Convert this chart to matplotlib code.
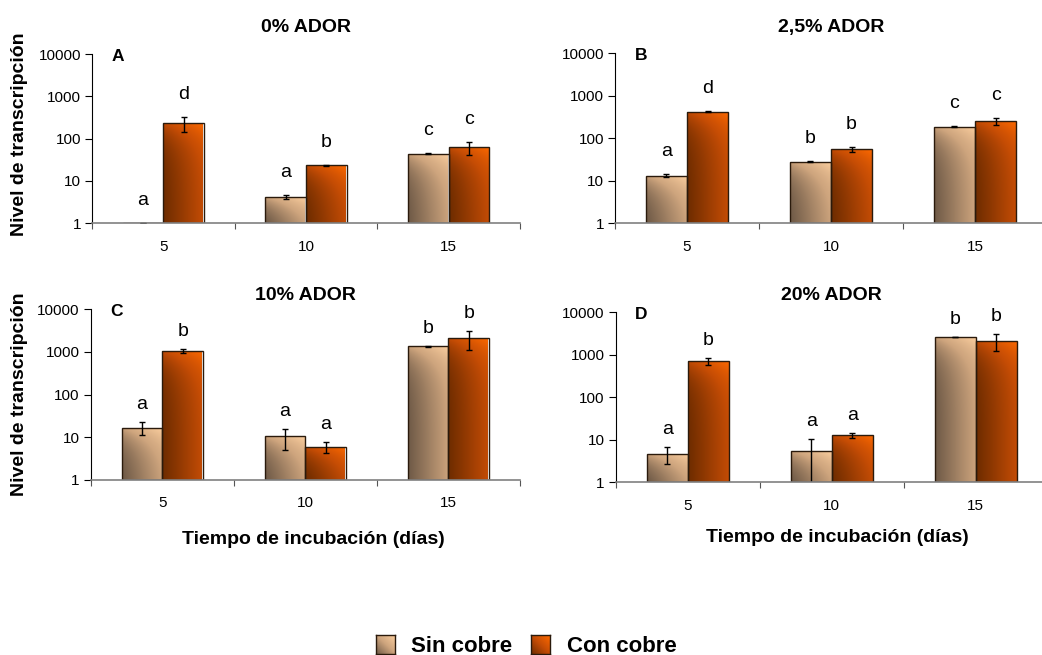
import matplotlib
matplotlib.use("Agg")
import matplotlib.pyplot as plt
from matplotlib.colors import LinearSegmentedColormap
import numpy as np

plt.rcParams['font.family'] = ['Liberation Sans', 'DejaVu Sans']

# days of incubation and panel titles
dias = ['5', '10', '15']
titulos = ['0% ADOR', '2,5% ADOR', '10% ADOR', '20% ADOR']
letras_panel = ['A', 'B', 'C', 'D']

# transcription level (mean) and error, without copper
sin_A = [1.0, 4.1, 44]
sin_A_err = [0.0, 0.4, 0.8]
sin_B = [13, 28, 186]
sin_B_err = [1.0, 1.2, 2]
sin_C = [16.6, 10.4, 1355]
sin_C_err = [5.5, 5.3, 20]
sin_D = [4.65, 5.3, 2580]
sin_D_err = [2.0, 4.9, 30]

# with copper
con_A = [230, 23, 62]
con_A_err = [85, 0.4, 21]
con_B = [420, 54, 248]
con_B_err = [20, 8, 42]
con_C = [1067, 5.95, 2090]
con_C_err = [120, 1.6, 980]
con_D = [714, 12.6, 2150]
con_D_err = [130, 1.8, 920]

# significance letters
sig_sin_A = ['a', 'a', 'c']
sig_con_A = ['d', 'b', 'c']
sig_sin_B = ['a', 'b', 'c']
sig_con_B = ['d', 'b', 'c']
sig_sin_C = ['a', 'a', 'b']
sig_con_C = ['b', 'a', 'b']
sig_sin_D = ['a', 'a', 'b']
sig_con_D = ['b', 'a', 'b']

cmap_sin = LinearSegmentedColormap.from_list('sin', ['#6f5a47', '#cda47d', '#fdd0a0'])
cmap_con = LinearSegmentedColormap.from_list('con', ['#6e2c00', '#c44c05', '#ff6a00'])

# diagonal gradient, dark at bottom-left, light at top-right
n = 64
u, v = np.meshgrid(np.linspace(0, 1, n), np.linspace(0, 1, n))
grad = (u + v) / 2.0


def gradient_bar(ax, x, h, w, cmap):
    if h > 1:
        ax.imshow(grad, cmap=cmap, origin='lower', aspect='auto',
                  extent=(x - w / 2, x + w / 2, 1, h), interpolation='bilinear',
                  zorder=2)
    ax.bar(x, h - 1, bottom=1, width=w, facecolor='none',
           edgecolor='#2a1a0c', linewidth=1.0, zorder=3)


def draw_panel(ax, sin, sin_err, con, con_err, sig_sin, sig_con, title, letra,
               title_pad, letra_off):
    x = np.arange(len(dias))
    w = 0.285
    off = 0.1425
    for xi, h in zip(x - off, sin):
        gradient_bar(ax, xi, h, w, cmap_sin)
    for xi, h in zip(x + off, con):
        gradient_bar(ax, xi, h, w, cmap_con)
    ax.errorbar(x - off, sin, yerr=sin_err, fmt='none', ecolor='black',
                elinewidth=1, capsize=2.5, capthick=1, zorder=4)
    ax.errorbar(x + off, con, yerr=con_err, fmt='none', ecolor='black',
                elinewidth=1, capsize=2.5, capthick=1, zorder=4)

    for xi, h, e, s in zip(x - off, sin, sin_err, sig_sin):
        ax.annotate(s, (xi, h + e), xytext=(0, letra_off), textcoords='offset points',
                    ha='center', va='baseline', fontsize=14)
    for xi, h, e, s in zip(x + off, con, con_err, sig_con):
        ax.annotate(s, (xi, h + e), xytext=(0, letra_off), textcoords='offset points',
                    ha='center', va='baseline', fontsize=14)

    ax.set_yscale('log')
    ax.set_ylim(1, 10000)
    ax.set_xlim(-0.5, 2.5)
    ax.set_yticks([1, 10, 100, 1000, 10000])
    ax.set_yticklabels(['1', '10', '100', '1000', '10000'])
    ax.yaxis.set_minor_locator(matplotlib.ticker.NullLocator())
    ax.tick_params(axis='y', which='major', direction='out', length=5, width=0.8,
                   pad=3, labelsize=11, colors='black')

    ax.set_xticks([-0.5, 0.5, 1.5, 2.5])
    ax.set_xticklabels([])
    ax.set_xticks(x, minor=True)
    ax.set_xticklabels(dias, minor=True)
    ax.tick_params(axis='x', which='major', direction='out', length=4, width=0.8,
                   color='#555555')
    ax.tick_params(axis='x', which='minor', length=0, pad=12, labelsize=11)

    for s in ['top', 'right']:
        ax.spines[s].set_visible(False)
    ax.spines['left'].set_color('black')
    ax.spines['left'].set_linewidth(0.8)
    ax.spines['bottom'].set_color('#808080')
    ax.spines['bottom'].set_linewidth(1.2)
    ax.spines['bottom'].set_zorder(5)

    ax.set_title(title, fontsize=14, fontweight='bold', pad=title_pad)
    ax.annotate(letra, (0, 1), xycoords='axes fraction', xytext=(14, -5),
                textcoords='offset points', ha='left', va='baseline',
                fontsize=12.5, fontweight='bold')


fig = plt.figure(figsize=(10.42, 6.55), dpi=100)

axA = fig.add_axes([0.0883, 0.6595, 0.4107, 0.2580])
axB = fig.add_axes([0.5902, 0.6595, 0.4146, 0.2595])
axC = fig.add_axes([0.0873, 0.2676, 0.4117, 0.2602])
axD = fig.add_axes([0.5909, 0.2641, 0.4146, 0.2591])

draw_panel(axA, sin_A, sin_A_err, con_A, con_A_err, sig_sin_A, sig_con_A,
           titulos[0], letras_panel[0], 16, 13)
draw_panel(axB, sin_B, sin_B_err, con_B, con_B_err, sig_sin_B, sig_con_B,
           titulos[1], letras_panel[1], 15, 13)
draw_panel(axC, sin_C, sin_C_err, con_C, con_C_err, sig_sin_C, sig_con_C,
           titulos[2], letras_panel[2], 6.5, 9.5)
draw_panel(axD, sin_D, sin_D_err, con_D, con_D_err, sig_sin_D, sig_con_D,
           titulos[3], letras_panel[3], 9, 9.5)

# axis titles
fig.text(20 / 1042, 1 - 134 / 655, 'Nivel de transcripción', rotation=90,
         ha='center', va='center', fontsize=14, fontweight='bold')
fig.text(20 / 1042, 1 - 394 / 655, 'Nivel de transcripción', rotation=90,
         ha='center', va='center', fontsize=14, fontweight='bold')
fig.text(313 / 1042, 1 - 540 / 655, 'Tiempo de incubación (días)',
         ha='center', va='center', fontsize=14, fontweight='bold')
fig.text(837 / 1042, 1 - 538 / 655, 'Tiempo de incubación (días)',
         ha='center', va='center', fontsize=14, fontweight='bold')

# legend with gradient swatches
for left, cmap, label, tx in [(376, cmap_sin, 'Sin cobre', 411),
                               (531, cmap_con, 'Con cobre', 567)]:
    sw = fig.add_axes([left / 1042, 1 - 654 / 655, 19 / 1042, 19 / 655])
    sw.imshow(grad, cmap=cmap, origin='lower', aspect='auto', interpolation='bilinear')
    sw.set_xticks([])
    sw.set_yticks([])
    for s in sw.spines.values():
        s.set_color('#2a1a0c')
        s.set_linewidth(1.0)
    fig.text(tx / 1042, 1 - 652 / 655, label, ha='left', va='baseline',
             fontsize=16, fontweight='bold')

fig.savefig('out.png', dpi=100)
